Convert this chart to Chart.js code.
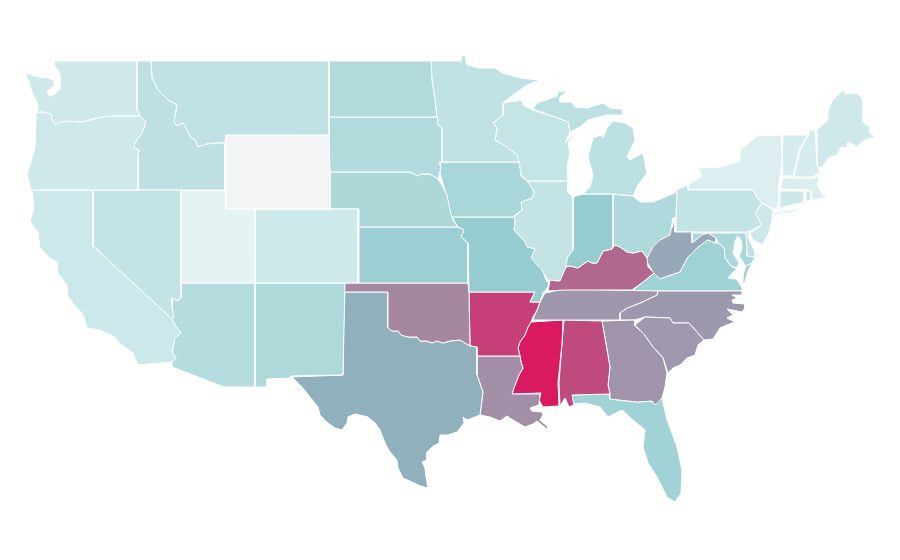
<!DOCTYPE html>
<html>
<head>
<meta charset="utf-8">
<title>US states map</title>
<script src="https://cdn.jsdelivr.net/npm/chart.js@4"></script>
<style>
  html, body { margin: 0; padding: 0; background: #fff; }
  canvas { display: block; }
</style>
</head>
<body>
<canvas id="usMap" width="900" height="560"></canvas>
<script>
// state outlines, in map units (x, y)
const washington = [[54,61],[137,61],[137,110],[140,116],[108,116],[93,119],[82,122],[65,121],[55,124],[52,120],[51,114],[43,112],[37,112],[38,105],[35,98],[32,92],[29,82],[25,73],[39,77],[49,78],[53,80],[55,85],[50,89],[47,92],[49,96],[55,94],[60,89],[61,78],[59,72],[55,66]];
const oregon = [[37,112],[43,112],[51,114],[52,120],[55,124],[65,121],[82,122],[93,119],[108,116],[140,116],[146,122],[142,133],[135,143],[134,148],[139,150],[138,157],[138,190],[31,190],[27,175],[30,165],[35,147],[36,117]];
const california = [[32,190],[93,190],[93,246],[172,319],[175,325],[181,333],[175,338],[172,352],[176,358],[172,362],[138,365],[133,353],[118,342],[115,337],[100,330],[87,328],[83,315],[68,297],[67,285],[58,273],[57,262],[50,258],[40,248],[38,232],[30,222],[34,208]];
const nevada = [[93,190],[181,190],[181,297],[178,301],[172,298],[172,307],[174,317],[172,319],[93,246]];
const idaho = [[137,61],[151,61],[152,78],[158,90],[168,100],[177,105],[175,115],[174,122],[177,126],[183,123],[187,130],[191,138],[195,140],[198,147],[207,144],[218,143],[225,143],[225,190],[138,190],[138,157],[139,150],[134,148],[135,143],[142,133],[146,122],[140,116],[137,110]];
const montana = [[151,61],[329,61],[329,135],[226,135],[225,143],[218,143],[207,144],[198,147],[195,140],[191,138],[187,130],[183,123],[177,126],[174,122],[175,115],[177,105],[168,100],[158,90],[152,78]];
const wyoming = [[226,135],[260,134],[300,135],[329,135],[330,172],[330,209],[226,209]];
const utah = [[181,190],[226,190],[226,209],[255,209],[255,283],[181,283]];
const colorado = [[255,209],[330,209],[358,209],[358,283],[255,283]];
const arizona = [[181,283],[255,283],[255,387],[224,387],[172,367],[172,362],[176,358],[172,352],[175,338],[181,333],[175,325],[172,319],[174,317],[172,307],[172,298],[178,301],[181,297]];
const newMexico = [[255,283],[345,283],[343,375],[291,376],[290,378],[267,379],[267,387],[255,387]];
const northDakota = [[329,61],[431,61],[432,80],[435,100],[437,117],[329,117]];
const southDakota = [[329,117],[437,117],[438,120],[437,124],[442,128],[442,162],[439,162],[441,168],[438,179],[430,174],[420,174],[418,176],[410,172],[329,172]];
const nebraska = [[329,172],[410,172],[418,176],[420,174],[430,174],[438,179],[442,185],[447,195],[450,210],[453,220],[458,227],[359,227],[359,209],[330,209]];
const kansas = [[359,227],[458,227],[464,230],[461,237],[468,243],[468,283],[359,283]];
const oklahoma = [[344,283],[468,283],[469,293],[470,346],[465,343],[460,340],[450,341],[443,343],[437,341],[432,343],[427,341],[420,341],[417,337],[408,337],[401,335],[398,331],[392,331],[388,328],[388,292],[344,292]];
const texas = [[344,292],[388,292],[388,328],[392,331],[398,331],[401,335],[408,337],[417,337],[420,341],[427,341],[432,343],[437,341],[443,343],[450,341],[460,340],[465,343],[470,346],[477,347],[477,375],[483,392],[480,415],[467,420],[463,417],[464,423],[457,432],[448,435],[440,435],[439,443],[432,447],[427,452],[427,460],[422,462],[425,468],[426,477],[428,488],[420,486],[412,482],[403,478],[398,468],[397,460],[390,452],[385,443],[380,430],[375,423],[368,417],[355,414],[348,417],[347,423],[342,430],[335,428],[328,423],[320,415],[318,407],[310,397],[302,387],[292,377],[343,375]];
const minnesota = [[431,61],[461,61],[462,55],[465,55],[467,65],[480,68],[495,68],[502,73],[510,75],[520,78],[540,80],[527,85],[513,95],[503,103],[503,115],[493,123],[497,128],[495,140],[507,147],[517,155],[519,162],[442,162],[442,128],[437,124],[438,120],[437,117],[435,100],[432,80]];
const iowa = [[441,162],[519,162],[520,168],[521,176],[528,182],[534,192],[532,198],[521,202],[522,210],[515,215],[514,217],[452,217],[448,207],[445,190],[441,177],[439,168]];
const missouri = [[452,217],[514,217],[515,222],[514,230],[525,242],[527,247],[535,249],[531,258],[540,268],[543,272],[547,282],[549,281],[548,287],[543,293],[540,302],[530,302],[535,292],[469,292],[468,243],[461,237],[464,230],[458,227]];
const arkansas = [[469,292],[535,292],[530,302],[540,302],[537,310],[533,317],[531,322],[528,327],[525,335],[520,342],[518,348],[520,356],[477,356],[477,347],[470,346]];
const louisiana = [[477,356],[520,356],[521,362],[523,368],[519,375],[515,385],[512,394],[540,394],[539,405],[530,408],[532,411],[542,412],[543,415],[540,420],[548,427],[548,430],[537,421],[533,424],[525,427],[513,420],[507,416],[500,421],[490,417],[480,415],[483,392],[477,375]];
const wisconsin = [[503,103],[523,100],[523,105],[533,110],[555,117],[568,122],[570,132],[565,143],[578,130],[568,143],[570,153],[567,167],[568,181],[527,181],[521,176],[520,168],[519,162],[517,155],[507,147],[495,140],[497,128],[493,123],[503,115]];
const illinois = [[527,181],[568,181],[568,192],[573,197],[573,250],[567,258],[566,267],[560,281],[548,280],[543,272],[530,258],[535,249],[527,247],[525,242],[514,230],[515,222],[514,217],[522,210],[521,202],[532,198],[534,192],[528,182]];
const michiganUpper = [[533,109],[537,103],[557,96],[558,92],[568,90],[560,97],[560,102],[572,102],[575,107],[587,108],[603,103],[610,108],[622,109],[623,115],[607,115],[588,120],[580,127],[572,131],[570,132],[568,122],[555,117]];
const michiganLower = [[613,121],[625,123],[633,128],[635,140],[627,157],[630,160],[643,153],[647,173],[638,185],[633,196],[613,194],[583,194],[590,187],[593,175],[588,157],[593,138],[600,135],[603,138],[607,128]];
const isleRoyale = [[549,82],[555,78],[553,81]];
const indiana = [[573,197],[583,194],[613,194],[613,245],[612,249],[603,251],[597,263],[592,263],[588,261],[582,265],[578,268],[570,266],[566,267],[567,258],[573,250]];
const ohio = [[613,194],[633,196],[640,202],[653,202],[677,192],[676,217],[673,218],[670,235],[660,240],[653,247],[647,258],[642,251],[633,253],[627,252],[620,247],[615,245],[613,245]];
const kentucky = [[548,291],[550,280],[558,281],[566,267],[570,266],[578,268],[582,265],[588,261],[592,263],[597,263],[603,251],[612,249],[615,245],[620,247],[627,252],[633,253],[642,251],[647,258],[648,267],[654,273],[643,282],[632,290],[565,290]];
const tennessee = [[545,293],[565,289],[610,290],[658,291],[657,295],[640,303],[627,308],[620,313],[620,320],[533,320],[534,317],[537,310],[540,302]];
const mississippi = [[531,322],[563,320],[562,343],[558,383],[559,406],[543,407],[539,400],[541,393],[512,394],[515,385],[519,375],[523,368],[521,362],[520,356],[518,348],[520,342],[525,335],[528,327]];
const alabama = [[564,320],[602,321],[610,367],[608,385],[610,394],[572,395],[574,405],[569,407],[565,398],[560,406],[559,383],[562,343]];
const georgia = [[602,321],[635,320],[634,325],[643,333],[653,347],[663,358],[667,373],[665,387],[662,398],[655,405],[652,401],[637,402],[610,399],[610,394],[608,385],[610,367]];
const florida = [[572,395],[610,394],[610,399],[637,402],[652,401],[655,405],[662,398],[667,420],[677,447],[682,470],[681,493],[675,502],[667,497],[657,477],[648,463],[643,447],[645,430],[633,420],[622,410],[608,417],[600,407],[585,403],[573,404]];
const southCarolina = [[635,325],[645,317],[670,318],[673,323],[689,323],[704,340],[698,345],[695,355],[687,358],[680,365],[673,368],[668,373],[663,358],[653,347],[643,333]];
const northCarolina = [[658,291],[742,291],[742,295],[732,295],[737,298],[732,300],[733,303],[745,304],[745,308],[742,312],[727,309],[733,315],[727,318],[735,322],[727,325],[720,328],[713,339],[704,340],[689,323],[673,323],[670,318],[645,317],[635,320],[620,320],[620,313],[627,308],[640,303],[657,295]];
const virginia = [[632,291],[643,282],[654,273],[660,279],[680,272],[688,257],[697,248],[708,240],[715,243],[718,243],[724,248],[725,258],[731,266],[737,269],[733,272],[728,278],[736,279],[740,284],[743,291]];
const virginiaShore = [[752,263],[748,271],[745,282],[743,284],[743,275],[746,266]];
const westVirginia = [[675,217],[675,232],[692,232],[692,243],[702,235],[708,233],[716,238],[715,243],[708,240],[697,248],[688,257],[680,272],[660,279],[653,272],[646,260],[653,243],[660,240],[672,228]];
const maryland = [[692,233],[746,233],[747,256],[755,257],[752,263],[746,266],[745,265],[739,256],[742,248],[741,240],[738,236],[735,241],[733,253],[736,258],[739,263],[737,268],[731,266],[725,258],[724,248],[718,243],[716,238],[708,233],[702,235],[692,243]];
const delaware = [[746,233],[750,231],[748,237],[755,252],[755,257],[747,256]];
const pennsylvania = [[676,190],[688,185],[688,190],[753,190],[757,198],[762,203],[755,213],[762,225],[748,232],[676,232]];
const newJersey = [[762,203],[773,210],[772,220],[769,233],[762,245],[753,240],[750,233],[762,225],[755,213]];
const newYork = [[688,190],[688,185],[702,176],[698,168],[720,167],[740,161],[740,150],[757,136],[781,135],[782,160],[779,183],[779,203],[775,210],[762,203],[757,198],[753,190]];
const longIsland = [[773,213],[802,208],[793,212],[773,215]];
const connecticut = [[780,191],[804,191],[804,202],[780,208]];
const rhodeIsland = [[806,191],[811,191],[811,201],[806,201]];
const massachusetts = [[783,178],[813,178],[820,176],[817,185],[823,195],[830,196],[822,198],[813,200],[810,190],[780,189]];
const vermont = [[783,135],[808,135],[800,148],[793,176],[783,176],[782,160]];
const newHampshire = [[810,130],[815,130],[817,165],[820,172],[813,177],[794,177],[800,150],[808,136]];
const maine = [[817,130],[822,125],[828,120],[828,110],[833,100],[843,90],[846,94],[858,93],[863,100],[863,122],[870,128],[870,133],[876,138],[870,138],[862,142],[857,147],[848,142],[847,147],[840,148],[837,155],[828,158],[823,167],[818,168],[817,160]];

const stateNames = ['Washington','Oregon','California','Nevada','Idaho','Montana','Wyoming','Utah','Colorado','Arizona','New Mexico','North Dakota','South Dakota','Nebraska','Kansas','Oklahoma','Texas','Minnesota','Iowa','Missouri','Arkansas','Louisiana','Wisconsin','Illinois','Michigan','Michigan','Michigan','Indiana','Ohio','Kentucky','Tennessee','Mississippi','Alabama','Georgia','Florida','South Carolina','North Carolina','Virginia','Virginia','West Virginia','Maryland','Delaware','Pennsylvania','New Jersey','New York','New York','Connecticut','Rhode Island','Massachusetts','Vermont','New Hampshire','Maine'];
const stateOutlines = [washington,oregon,california,nevada,idaho,montana,wyoming,utah,colorado,arizona,newMexico,northDakota,southDakota,nebraska,kansas,oklahoma,texas,minnesota,iowa,missouri,arkansas,louisiana,wisconsin,illinois,michiganUpper,michiganLower,isleRoyale,indiana,ohio,kentucky,tennessee,mississippi,alabama,georgia,florida,southCarolina,northCarolina,virginia,virginiaShore,westVirginia,maryland,delaware,pennsylvania,newJersey,newYork,longIsland,connecticut,rhodeIsland,massachusetts,vermont,newHampshire,maine];
const stateColours = ['#cfe8ea','#cfe8ea','#cbe8ea','#c3e3e5','#bee0e3','#c0e2e4','#f2f4f6','#e4f3f4','#cde9ea','#b5dcde','#aed9db','#b1dadd','#b1dadd','#acd8da','#9bcfd3','#a687a2','#90b0bc','#c0e2e4','#a8d6d9','#94ccd0','#c73f78','#a38ea8','#c5e4e6','#c3e3e5','#bbe0e2','#bbe0e2','#bbe0e2','#94ccd0','#afd9dc','#b1678f','#a097ad','#d91a60','#bf4a7e','#a094ad','#a1d3d6','#9f98ae','#9e98ae','#9fd2d4','#9fd2d4','#97a9b9','#aad7da','#bfe2e4','#c3e3e5','#cde8ea','#dceef0','#dceef0','#cbe7ea','#cbe7ea','#dceef0','#d6ebed','#d6ebed','#cfe8ea'];

// each state is one closed line, filled with its colour
const datasets = stateOutlines.map(function (outline, i) {
    const points = outline.map(function (p) {
        return { x: p[0], y: p[1] };
    });
    points.push(points[0]);
    return {
        label: stateNames[i],
        data: points,
        showLine: true,
        fill: 'shape',
        backgroundColor: stateColours[i],
        borderColor: '#ffffff',
        borderWidth: 1,
        pointRadius: 0,
        pointHoverRadius: 0,
        tension: 0
    };
});

const ctx = document.getElementById('usMap').getContext('2d');
new Chart(ctx, {
    type: 'scatter',
    data: { datasets: datasets },
    options: {
        responsive: false,
        animation: false,
        layout: { padding: 0 },
        plugins: {
            legend: { display: false },
            title: { display: false },
            tooltip: { enabled: false }
        },
        scales: {
            x: { type: 'linear', min: 0, max: 900, display: false },
            y: { type: 'linear', min: 0, max: 560, reverse: true, display: false }
        }
    }
});
</script>
</body>
</html>
